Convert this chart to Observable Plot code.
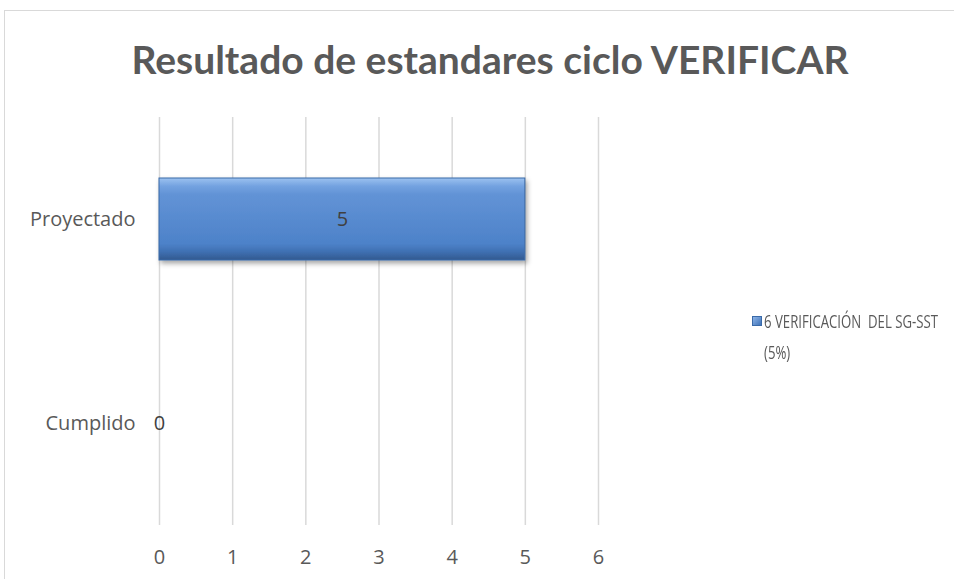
<!DOCTYPE html>
<html>
<head>
<meta charset="utf-8">
<script src="https://cdn.jsdelivr.net/npm/d3@7"></script>
<script src="https://cdn.jsdelivr.net/npm/@observablehq/plot@0.6"></script>
<style>
  html, body { margin: 0; padding: 0; background: #fff; }
  #wrap { position: relative; width: 954px; height: 579px; overflow: hidden; font-family: "Open Sans", Lato, sans-serif; }
  #frame { position: absolute; left: 4px; top: 10px; width: 960px; height: 600px; border: 1.5px solid #d9d9d9; box-sizing: border-box; }
  #title { position: absolute; left: 26px; width: 928px; top: 34px; text-align: center; font-family: Lato, sans-serif; font-weight: bold; font-size: 39px; line-height: 50px; color: #595959; white-space: nowrap; }
  .leg { position: absolute; font-size: 19px; color: #595959; white-space: pre; line-height: 24px; transform-origin: 0 50%; }
  #sw { position: absolute; left: 752px; top: 316px; width: 10px; height: 10px; background: linear-gradient(135deg, #8db4e8, #3f73b8); border: 1px solid #3a6aa8; box-sizing: border-box; }
  #chart { position: absolute; left: 0; top: 0; }
</style>
</head>
<body>
<div id="wrap">
  <div id="frame"></div>
  <div id="chart"></div>
  <div id="title">Resultado de estandares ciclo VERIFICAR</div>
  <div id="sw"></div>
  <div class="leg" id="leg1" style="left:764px; top:309px;"></div>
  <div class="leg" id="leg2" style="left:764px; top:340px;"></div>
</div>
<script>
const categories = ["Proyectado", "Cumplido"];
const values = [5, 0];
const seriesLine1 = "6 VERIFICACIÓN  DEL SG-SST";
const seriesLine2 = "(5%)";
const xTicks = [0, 1, 2, 3, 4, 5, 6];

const leg1 = document.getElementById("leg1");
const leg2 = document.getElementById("leg2");
leg1.textContent = seriesLine1;
leg2.textContent = seriesLine2;

const data = categories.map((c, i) => ({category: c, value: values[i]}));

const plot = Plot.plot({
  width: 954,
  height: 579,
  marginLeft: 159,
  marginRight: 356,
  marginTop: 117,
  marginBottom: 54,
  style: {fontFamily: "'Open Sans', Lato, sans-serif", fontSize: "20px", color: "#595959", background: "transparent"},
  x: {domain: [0, 6], ticks: xTicks, tickFormat: d3.format("d"), label: null, tickSize: 0, tickPadding: 24},
  y: {domain: categories, label: null, tickSize: 0, tickPadding: 24, paddingInner: 0.6, paddingOuter: 0.3},
  marks: [
    Plot.gridX(xTicks, {stroke: "#d9d9d9", strokeOpacity: 1, strokeWidth: 1.5}),
    Plot.barX(data, {y: "category", x: "value", fill: "url(#barGrad)", stroke: "#3a6aa8", strokeWidth: 1, filter: d => d.value > 0}),
    Plot.text(data, {y: "category", x: d => d.value / 2, text: d => String(d.value), fill: "#404040", fontSize: 20})
  ]
});

const svg = d3.select(plot);
svg.selectAll("text").style("font-size", "20px");
const defs = svg.insert("defs", ":first-child");
const g = defs.append("linearGradient").attr("id", "barGrad").attr("x1", 0).attr("y1", 0).attr("x2", 0).attr("y2", 1);
g.append("stop").attr("offset", "0%").attr("stop-color", "#9cc2f0");
g.append("stop").attr("offset", "10%").attr("stop-color", "#73a2e0");
g.append("stop").attr("offset", "20%").attr("stop-color", "#6293d6");
g.append("stop").attr("offset", "80%").attr("stop-color", "#4d82c9");
g.append("stop").attr("offset", "90%").attr("stop-color", "#3f70b2");
g.append("stop").attr("offset", "100%").attr("stop-color", "#32598f");
const f = defs.append("filter").attr("id", "shadow").attr("x", "-5%").attr("y", "-20%").attr("width", "115%").attr("height", "150%");
f.append("feDropShadow").attr("dx", 2).attr("dy", 3).attr("stdDeviation", 2.5).attr("flood-color", "#000").attr("flood-opacity", 0.35);
svg.selectAll("rect").filter(function() { return this.getAttribute("fill") === "url(#barGrad)" || (this.parentNode && this.parentNode.getAttribute("fill") === "url(#barGrad)"); }).attr("filter", "url(#shadow)");

document.getElementById("chart").appendChild(plot);

// fit legend line to the reference width (narrower original typeface)
const w1 = leg1.getBoundingClientRect().width;
const s = Math.min(1, 174 / w1);
leg1.style.transform = `scaleX(${s})`;
leg2.style.transform = `scaleX(${s})`;
</script>
</body>
</html>
